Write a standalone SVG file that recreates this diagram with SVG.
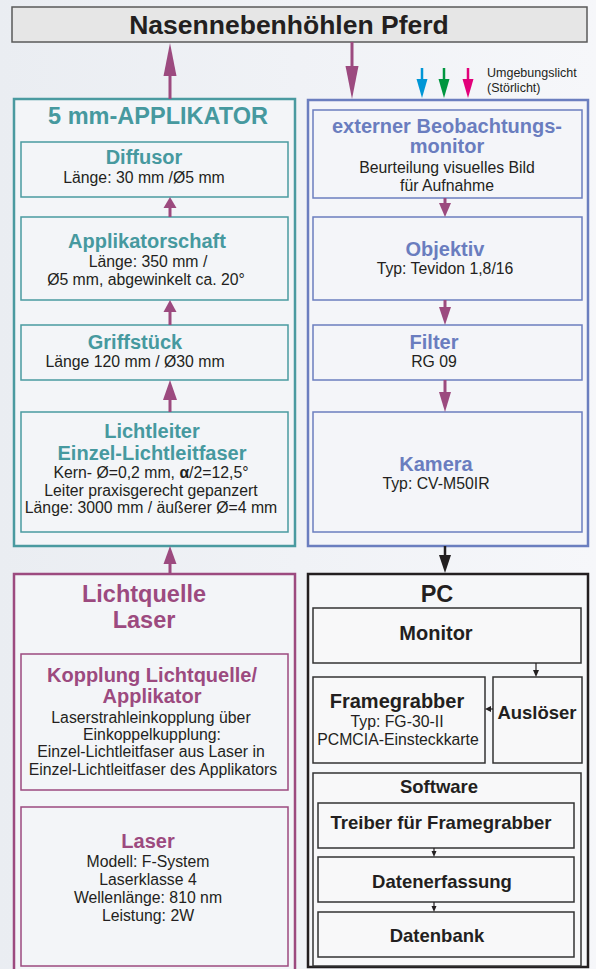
<svg xmlns="http://www.w3.org/2000/svg" width="596" height="969" viewBox="0 0 596 969">
<defs>
<linearGradient id="bg" x1="0" y1="0" x2="1" y2="0">
<stop offset="0" stop-color="#eaedf2"/>
<stop offset="1" stop-color="#f6f7fa"/>
</linearGradient>
<style>
text{font-family:"Liberation Sans",Arial,sans-serif;text-anchor:middle;fill:#231f20}
.t1{font-size:26.5px;font-weight:bold}
.ot{font-size:23.5px;font-weight:bold}
.bt{font-size:20px;font-weight:bold}
.st{font-size:18.5px;font-weight:bold}
.rt{font-size:15.8px}
.sm{font-size:12.5px;text-anchor:start}
.teal{fill:#46999f}
.blue{fill:#6a7dbf}
.purp{fill:#9c4a7f}
.obT{fill:#f3f5f8;stroke:#4a9aa0;stroke-width:2.5}
.ibT{fill:none;stroke:#4a9aa0;stroke-width:1.5}
.obB{fill:#f4f5f9;stroke:#6b7ebf;stroke-width:2.5}
.ibB{fill:none;stroke:#6b7ebf;stroke-width:1.5}
.obP{fill:#f3f5f8;stroke:#9c4a7f;stroke-width:2.5}
.ibP{fill:none;stroke:#9c4a7f;stroke-width:1.5}
.obK{fill:#f6f7f9;stroke:#231f20;stroke-width:2.5}
.ibK{fill:#f8f8f9;stroke:#333;stroke-width:1.5}
.lp{stroke:#9c4a7f;stroke-width:3;fill:none}
.hp{fill:#9c4a7f}
.lk{stroke:#231f20;stroke-width:1.2;fill:none}
.hk{fill:#231f20}
</style>
</defs>
<rect x="0" y="0" width="596" height="969" fill="url(#bg)"/>

<g id="title">
<rect x="12" y="7" width="575" height="35" fill="#e6e6e6" stroke="#5a5a5a" stroke-width="1.5"/>
<text class="t1" x="289" y="34">Nasennebenhöhlen Pferd</text>
</g>

<g id="applikator">
<rect class="obT" x="14" y="99" width="281" height="447"/>
<text class="ot teal" x="158" y="124">5 mm-APPLIKATOR</text>
</g>
<g id="diffusor">
<rect class="ibT" x="21" y="142" width="267" height="55"/>
<text class="bt teal" x="144" y="164">Diffusor</text>
<text class="rt" x="144" y="183">Länge: 30 mm /Ø5 mm</text>
</g>
<g id="applikatorschaft">
<rect class="ibT" x="21" y="217" width="267" height="83"/>
<text class="bt teal" x="147" y="248">Applikatorschaft</text>
<text class="rt" x="148" y="267">Länge: 350 mm /</text>
<text class="rt" x="146" y="285">Ø5 mm, abgewinkelt ca. 20°</text>
</g>
<g id="griffstueck">
<rect class="ibT" x="21" y="325" width="267" height="55"/>
<text class="bt teal" x="135" y="349">Griffstück</text>
<text class="rt" x="135" y="367">Länge 120 mm / Ø30 mm</text>
</g>
<g id="lichtleiter">
<rect class="ibT" x="21" y="412" width="267" height="120"/>
<text class="bt teal" x="152" y="438">Lichtleiter</text>
<text class="bt teal" x="152" y="460">Einzel-Lichtleitfaser</text>
<text class="rt" x="151" y="478">Kern- Ø=0,2 mm, <tspan font-weight="bold">α</tspan>/2=12,5°</text>
<text class="rt" x="151" y="496">Leiter praxisgerecht gepanzert</text>
<text class="rt" x="151" y="513">Länge: 3000 mm / äußerer Ø=4 mm</text>
</g>

<g id="beobachtung-box">
<rect class="obB" x="308" y="100" width="280" height="446"/>
</g>
<g id="beobachtungsmonitor">
<rect class="ibB" x="313" y="110" width="269" height="88"/>
<text class="bt blue" x="447" y="133">externer Beobachtungs-</text>
<text class="bt blue" x="447" y="153">monitor</text>
<text class="rt" x="447" y="173">Beurteilung visuelles Bild</text>
<text class="rt" x="447" y="191">für Aufnahme</text>
</g>
<g id="objektiv">
<rect class="ibB" x="313" y="217" width="269" height="83"/>
<text class="bt blue" x="445" y="256">Objektiv</text>
<text class="rt" x="445" y="274">Typ: Tevidon 1,8/16</text>
</g>
<g id="filter">
<rect class="ibB" x="313" y="325" width="269" height="55"/>
<text class="bt blue" x="434" y="349">Filter</text>
<text class="rt" x="434" y="367">RG 09</text>
</g>
<g id="kamera">
<rect class="ibB" x="313" y="412" width="269" height="120"/>
<text class="bt blue" x="436" y="471">Kamera</text>
<text class="rt" x="436" y="489">Typ: CV-M50IR</text>
</g>

<g id="lichtquelle">
<rect class="obP" x="14" y="574" width="281" height="400"/>
<text class="ot purp" x="144" y="602">Lichtquelle</text>
<text class="ot purp" x="144" y="628">Laser</text>
</g>
<g id="kopplung">
<rect class="ibP" x="21" y="654" width="267" height="136"/>
<text class="bt purp" x="152" y="682">Kopplung Lichtquelle/</text>
<text class="bt purp" x="152" y="703">Applikator</text>
<text class="rt" x="151" y="723">Laserstrahleinkopplung über</text>
<text class="rt" x="152" y="740">Einkoppelkupplung:</text>
<text class="rt" x="151" y="757">Einzel-Lichtleitfaser aus Laser in</text>
<text class="rt" x="153" y="775">Einzel-Lichtleitfaser des Applikators</text>
</g>
<g id="laser">
<rect class="ibP" x="21" y="807" width="267" height="159"/>
<text class="bt purp" x="148" y="848">Laser</text>
<text class="rt" x="148" y="867">Modell: F-System</text>
<text class="rt" x="148" y="885">Laserklasse 4</text>
<text class="rt" x="148" y="903">Wellenlänge: 810 nm</text>
<text class="rt" x="148" y="921">Leistung: 2W</text>
</g>

<g id="pc">
<rect class="obK" x="308" y="574" width="280" height="393"/>
<text class="ot" x="437" y="602">PC</text>
</g>
<g id="monitor">
<rect class="ibK" x="313" y="608" width="268" height="55"/>
<text class="bt" x="436" y="640">Monitor</text>
</g>
<g id="framegrabber">
<rect class="ibK" x="313" y="677" width="172" height="86"/>
<text class="bt" x="397" y="708">Framegrabber</text>
<text class="rt" x="397" y="727">Typ: FG-30-II</text>
<text class="rt" x="398" y="745">PCMCIA-Einsteckkarte</text>
</g>
<g id="ausloeser">
<rect class="ibK" x="493" y="677" width="89" height="86"/>
<text class="st" x="537" y="719">Auslöser</text>
</g>
<g id="software">
<rect class="ibK" x="313" y="773" width="268" height="193"/>
<text class="st" x="439" y="793">Software</text>
</g>
<g id="treiber">
<rect class="ibK" x="318" y="803" width="256" height="45"/>
<text class="st" x="441" y="829">Treiber für Framegrabber</text>
</g>
<g id="datenerfassung">
<rect class="ibK" x="318" y="857" width="256" height="45"/>
<text class="st" x="442" y="888">Datenerfassung</text>
</g>
<g id="datenbank">
<rect class="ibK" x="318" y="912" width="256" height="45"/>
<text class="st" x="437" y="942">Datenbank</text>
</g>

<g id="ambient">
<line x1="422" y1="68" x2="422" y2="81" stroke="#0096d6" stroke-width="2.5"/>
<polygon points="422,98 416.5,79 427.5,79" fill="#0096d6"/>
<line x1="444" y1="68" x2="444" y2="81" stroke="#00963f" stroke-width="2.5"/>
<polygon points="444,98 438.5,79 449.5,79" fill="#00963f"/>
<line x1="468" y1="68" x2="468" y2="81" stroke="#e2007a" stroke-width="2.5"/>
<polygon points="468,98 462.5,79 473.5,79" fill="#e2007a"/>
<text class="sm" x="487" y="77">Umgebungslicht</text>
<text class="sm" x="487" y="92">(Störlicht)</text>
</g>

<g id="connectors">
<line class="lp" x1="170" y1="99" x2="170" y2="74"/>
<polygon class="hp" points="170,43 163.5,76 176.5,76"/>
<line class="lp" x1="352" y1="42" x2="352" y2="68"/>
<polygon class="hp" points="352,99 345.5,66 358.5,66"/>
<line class="lp" x1="170" y1="217" x2="170" y2="206"/>
<polygon class="hp" points="170,197 163.5,208 176.5,208"/>
<line class="lp" x1="170" y1="325" x2="170" y2="310"/>
<polygon class="hp" points="170,300 163.5,312 176.5,312"/>
<line class="lp" x1="170" y1="412" x2="170" y2="398"/>
<polygon class="hp" points="170,380 163,400 177,400"/>
<line class="lp" x1="170" y1="574" x2="170" y2="562"/>
<polygon class="hp" points="170,546 163.5,564 176.5,564"/>
<line class="lp" x1="445" y1="198" x2="445" y2="205"/>
<polygon class="hp" points="445,217 439,203 451,203"/>
<line class="lp" x1="445" y1="300" x2="445" y2="309"/>
<polygon class="hp" points="445,325 439,307 451,307"/>
<line class="lp" x1="445" y1="380" x2="445" y2="394"/>
<polygon class="hp" points="445,412 439,392 451,392"/>
<line x1="445" y1="546" x2="445" y2="557" stroke="#231f20" stroke-width="2.5"/>
<polygon class="hk" points="445,573 439,555 451,555"/>
<line class="lk" x1="536" y1="663" x2="536" y2="671"/>
<polygon class="hk" points="536,677 533,670 539,670"/>
<line class="lk" x1="493" y1="709" x2="490" y2="709"/>
<polygon class="hk" points="485,709 491,706 491,712"/>
<line class="lk" x1="434" y1="848" x2="434" y2="852"/>
<polygon class="hk" points="434,857 431.5,851 436.5,851"/>
<line class="lk" x1="434" y1="902" x2="434" y2="907"/>
<polygon class="hk" points="434,912 431.5,906 436.5,906"/>
</g>
</svg>
